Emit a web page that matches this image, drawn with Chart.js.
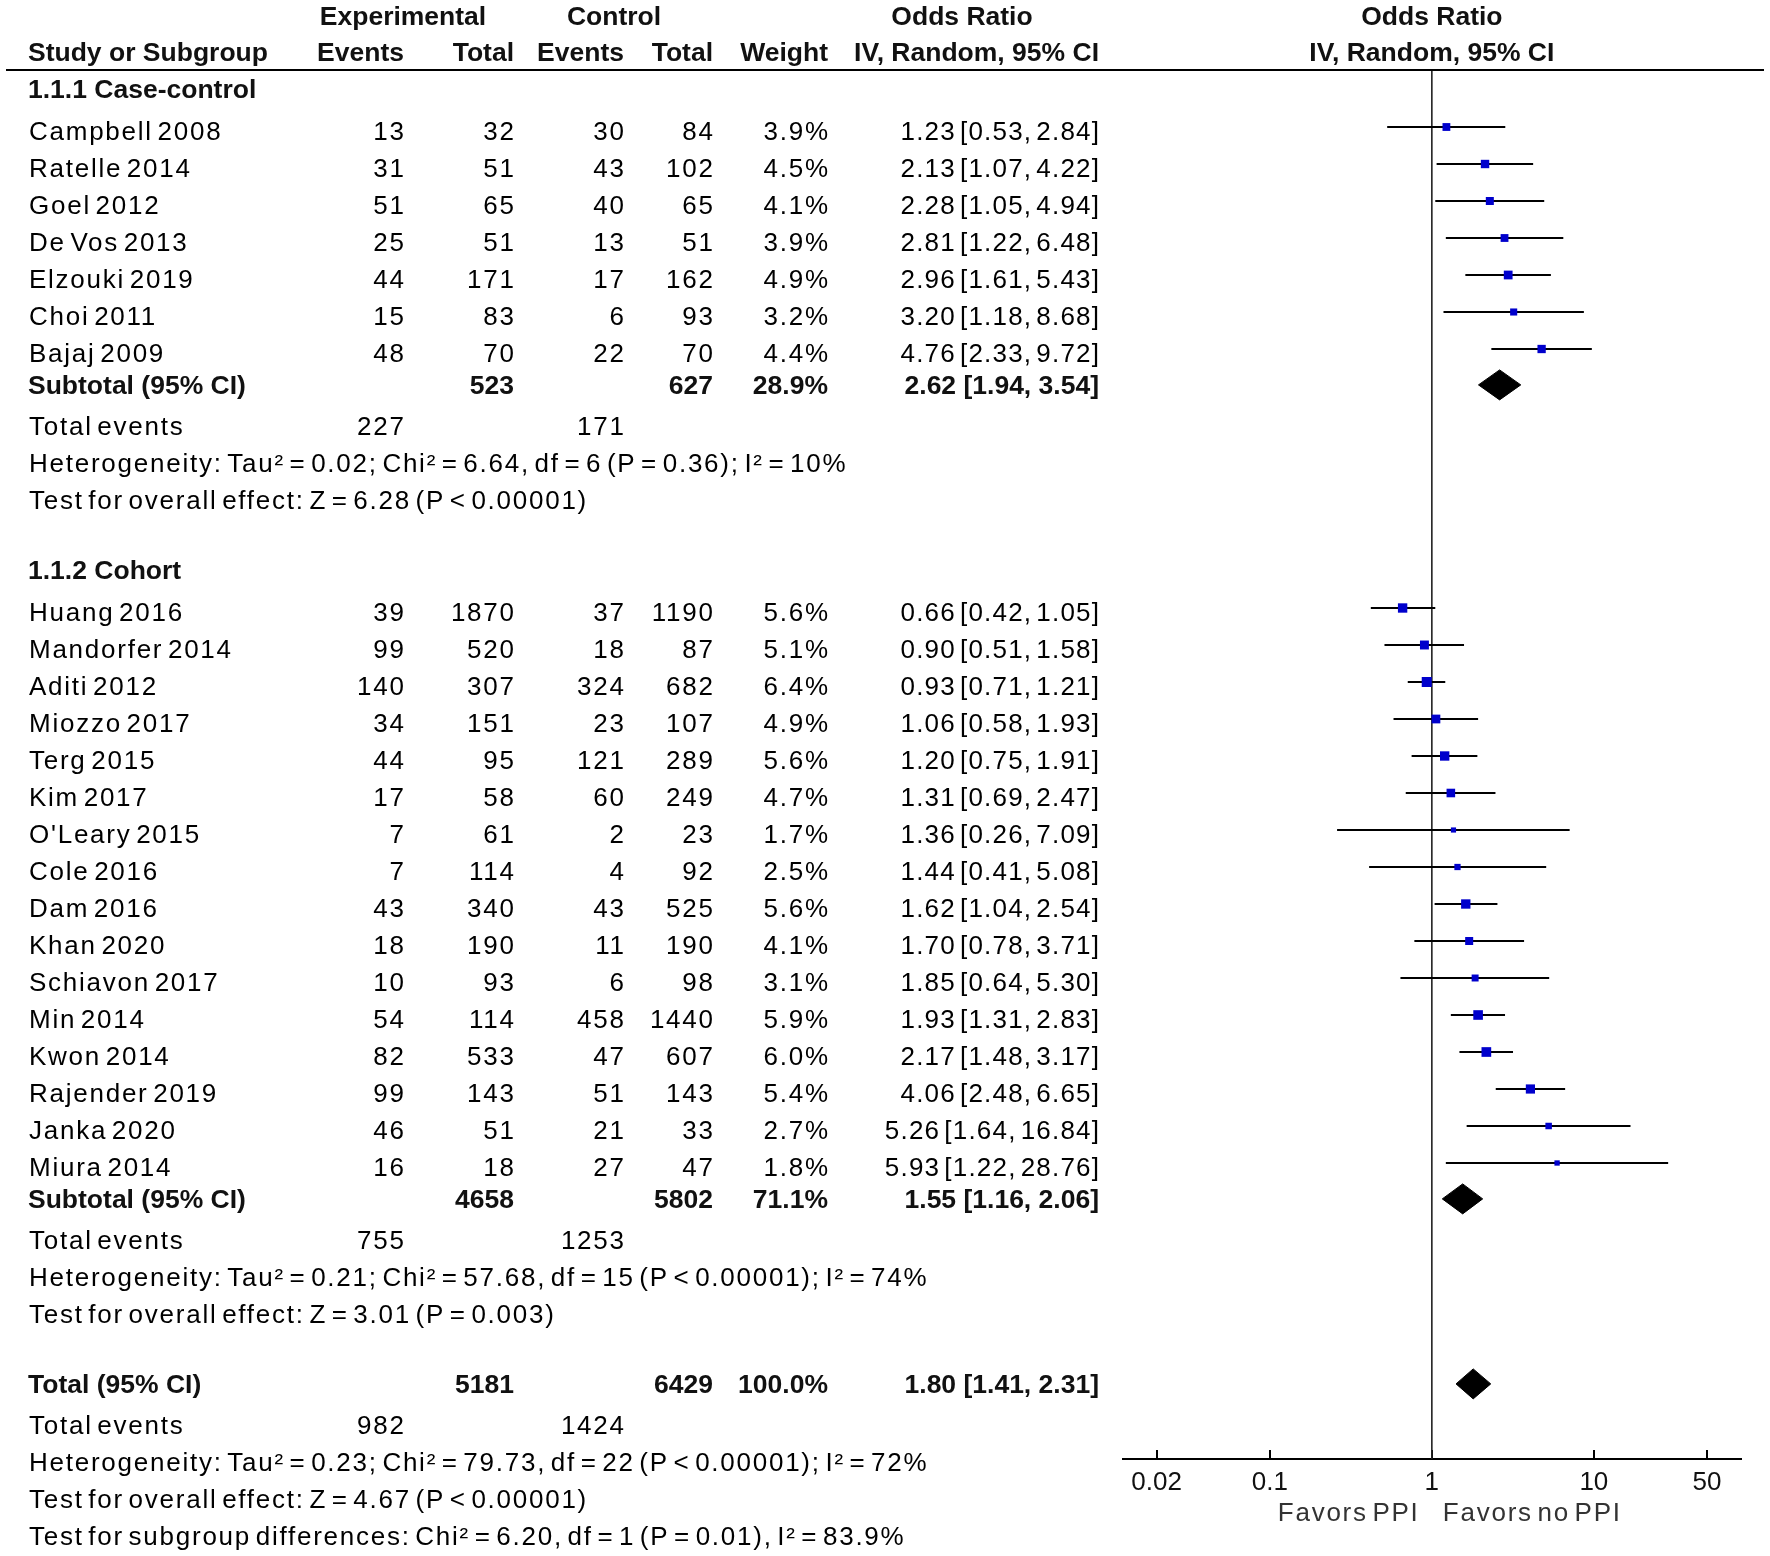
<!DOCTYPE html>
<html>
<head>
<meta charset="utf-8">
<title>Forest plot - Odds Ratio</title>
<script src="https://cdn.jsdelivr.net/npm/chart.js"></script>
<style>
  html, body { margin: 0; padding: 0; background: #fff; }
  #forest { display: block; }
</style>
</head>
<body>
<canvas id="forest" width="1770" height="1556"></canvas>
<script>
// ---- data ----
const groupNames = ['1.1.1 Case-control', '1.1.2 Cohort'];

const studies = [
    'Campbell 2008', 'Ratelle 2014', 'Goel 2012', 'De Vos 2013', 'Elzouki 2019', 'Choi 2011', 'Bajaj 2009',
    'Huang 2016', 'Mandorfer 2014', 'Aditi 2012', 'Miozzo 2017', 'Terg 2015', 'Kim 2017', "O'Leary 2015",
    'Cole 2016', 'Dam 2016', 'Khan 2020', 'Schiavon 2017', 'Min 2014', 'Kwon 2014', 'Rajender 2019',
    'Janka 2020', 'Miura 2014'
];
const studyGroup = [0, 0, 0, 0, 0, 0, 0, 1, 1, 1, 1, 1, 1, 1, 1, 1, 1, 1, 1, 1, 1, 1, 1];

const expEvents = [13, 31, 51, 25, 44, 15, 48, 39, 99, 140, 34, 44, 17, 7, 7, 43, 18, 10, 54, 82, 99, 46, 16];
const expTotal = [32, 51, 65, 51, 171, 83, 70, 1870, 520, 307, 151, 95, 58, 61, 114, 340, 190, 93, 114, 533, 143, 51, 18];
const ctlEvents = [30, 43, 40, 13, 17, 6, 22, 37, 18, 324, 23, 121, 60, 2, 4, 43, 11, 6, 458, 47, 51, 21, 27];
const ctlTotal = [84, 102, 65, 51, 162, 93, 70, 1190, 87, 682, 107, 289, 249, 23, 92, 525, 190, 98, 1440, 607, 143, 33, 47];
const weights = [3.9, 4.5, 4.1, 3.9, 4.9, 3.2, 4.4, 5.6, 5.1, 6.4, 4.9, 5.6, 4.7, 1.7, 2.5, 5.6, 4.1, 3.1, 5.9, 6.0, 5.4, 2.7, 1.8];
const oddsRatio = [1.23, 2.13, 2.28, 2.81, 2.96, 3.20, 4.76, 0.66, 0.90, 0.93, 1.06, 1.20, 1.31, 1.36, 1.44, 1.62, 1.70, 1.85, 1.93, 2.17, 4.06, 5.26, 5.93];
const ciLow = [0.53, 1.07, 1.05, 1.22, 1.61, 1.18, 2.33, 0.42, 0.51, 0.71, 0.58, 0.75, 0.69, 0.26, 0.41, 1.04, 0.78, 0.64, 1.31, 1.48, 2.48, 1.64, 1.22];
const ciHigh = [2.84, 4.22, 4.94, 6.48, 5.43, 8.68, 9.72, 1.05, 1.58, 1.21, 1.93, 1.91, 2.47, 7.09, 5.08, 2.54, 3.71, 5.30, 2.83, 3.17, 6.65, 16.84, 28.76];

// subgroup summaries
const subExpTotal = [523, 4658];
const subCtlTotal = [627, 5802];
const subWeight = [28.9, 71.1];
const subOR = [2.62, 1.55];
const subLow = [1.94, 1.16];
const subHigh = [3.54, 2.06];
const subExpEvents = [227, 755];
const subCtlEvents = [171, 1253];
const subHeterogeneity = [
    'Heterogeneity: Tau\u00b2 = 0.02; Chi\u00b2 = 6.64, df = 6 (P = 0.36); I\u00b2 = 10%',
    'Heterogeneity: Tau\u00b2 = 0.21; Chi\u00b2 = 57.68, df = 15 (P < 0.00001); I\u00b2 = 74%'
];
const subEffect = [
    'Test for overall effect: Z = 6.28 (P < 0.00001)',
    'Test for overall effect: Z = 3.01 (P = 0.003)'
];

// overall
const totalExp = 5181;
const totalCtl = 6429;
const totalWeight = 100.0;
const totalOR = 1.80;
const totalLow = 1.41;
const totalHigh = 2.31;
const totalExpEvents = 982;
const totalCtlEvents = 1424;
const totalNotes = [
    'Heterogeneity: Tau\u00b2 = 0.23; Chi\u00b2 = 79.73, df = 22 (P < 0.00001); I\u00b2 = 72%',
    'Test for overall effect: Z = 4.67 (P < 0.00001)',
    'Test for subgroup differences: Chi\u00b2 = 6.20, df = 1 (P = 0.01), I\u00b2 = 83.9%'
];

const xTicks = [0.02, 0.1, 1, 10, 50];
const favorsLeft = 'Favors PPI';
const favorsRight = 'Favors no PPI';

// ---- layout (row units, one row ~ 37px) ----
const FAMILY = "'Liberation Sans', Arial, sans-serif";
const BODY = '26px ' + FAMILY;
const BOLD = 'bold 26.5px ' + FAMILY;
const LETTER_SP = 1.75;
const WORD_SP = -4.3;
const NUM_SP = 1.2;      // the CI column is set a little tighter
const BOLD_DY = 2;
const BODY_DY = 1;
const DIAMOND_H = 0.405;
const STUDY_TEXT_DY = 4.5;
const AXIS_ROW = 39;
const HEADER_LINE_ROW = 1.46;

const cols = { name: 29, expEv: 404, expTot: 514, ctlEv: 624, ctlTot: 713, weight: 828, orText: 1099 };

const studyRow = [];
const groupRow = [];
const subRow = [];
let nextLabel = 1.97;
groupNames.forEach(function(g, gi) {
    groupRow.push(nextLabel);
    let k = 0;
    studies.forEach(function(s, i) {
        if (studyGroup[i] === gi) {
            studyRow[i] = nextLabel + 1.03 + k;
            k++;
        }
    });
    const sub = nextLabel + k + 1;
    subRow.push(sub);
    nextLabel = sub + 5;
});
const totalRow = nextLabel;

function fmtOR(or, lo, hi) {
    return or.toFixed(2) + ' [' + lo.toFixed(2) + ', ' + hi.toFixed(2) + ']';
}

function diamondData(or, lo, hi, row) {
    return [
        { x: lo, y: row },
        { x: or, y: row - DIAMOND_H },
        { x: hi, y: row },
        { x: or, y: row + DIAMOND_H },
        { x: lo, y: row }
    ];
}

// ---- datasets ----
const datasets = [];

datasets.push({
    label: 'Studies',
    data: studies.map(function(s, i) { return { x: oddsRatio[i], y: studyRow[i] }; }),
    pointStyle: 'rect',
    pointRadius: weights.map(function(w) { return 2.8 * Math.sqrt(w); }),
    pointBackgroundColor: '#0000cc',
    pointBorderWidth: 0,
    showLine: false,
    order: 0
});

studies.forEach(function(s, i) {
    datasets.push({
        label: s + ' CI',
        data: [{ x: ciLow[i], y: studyRow[i] }, { x: ciHigh[i], y: studyRow[i] }],
        showLine: true,
        borderColor: '#000',
        borderWidth: 1.8,
        pointRadius: 0,
        order: 2
    });
});

subOR.forEach(function(or, gi) {
    datasets.push({
        label: groupNames[gi] + ' subtotal',
        data: diamondData(or, subLow[gi], subHigh[gi], subRow[gi]),
        showLine: true,
        fill: 'shape',
        backgroundColor: '#000',
        borderColor: '#000',
        borderWidth: 1,
        pointRadius: 0,
        order: 1
    });
});

datasets.push({
    label: 'Total',
    data: diamondData(totalOR, totalLow, totalHigh, totalRow),
    showLine: true,
    fill: 'shape',
    backgroundColor: '#000',
    borderColor: '#000',
    borderWidth: 1,
    pointRadius: 0,
    order: 1
});

// ---- text / reference line plugin ----
function put(ctx, s, x, y, align, bold, color, spacing) {
    const ls = bold ? 0 : (spacing === undefined ? LETTER_SP : spacing);
    ctx.font = bold ? BOLD : BODY;
    ctx.letterSpacing = ls + 'px';
    ctx.wordSpacing = bold ? '0px' : WORD_SP + 'px';
    ctx.fillStyle = color || (bold ? '#111' : '#000');
    ctx.textAlign = align;
    ctx.textBaseline = 'middle';
    const shift = align === 'right' ? ls : 0;
    ctx.fillText(s, x + shift, y + (bold ? BOLD_DY : BODY_DY));
}

const forestPlugin = {
    id: 'forestTable',
    beforeDatasetsDraw(chart) {
        const ctx = chart.ctx;
        const x = chart.scales.x;
        const y = chart.scales.y;
        ctx.save();
        // line of no effect
        ctx.strokeStyle = '#222';
        ctx.lineWidth = 1.6;
        ctx.beginPath();
        ctx.moveTo(x.getPixelForValue(1), y.getPixelForValue(HEADER_LINE_ROW));
        ctx.lineTo(x.getPixelForValue(1), y.getPixelForValue(AXIS_ROW));
        ctx.stroke();
        // header rule
        ctx.strokeStyle = '#000';
        ctx.lineWidth = 2;
        ctx.beginPath();
        ctx.moveTo(6, y.getPixelForValue(HEADER_LINE_ROW));
        ctx.lineTo(1764, y.getPixelForValue(HEADER_LINE_ROW));
        ctx.stroke();
        ctx.restore();
    },
    afterDraw(chart) {
        const ctx = chart.ctx;
        const x = chart.scales.x;
        const y = chart.scales.y;
        const one = x.getPixelForValue(1);
        ctx.save();

        // column headers
        const h0 = y.getPixelForValue(0);
        const h1 = y.getPixelForValue(0.97);
        put(ctx, 'Experimental', 403, h0, 'center', true);
        put(ctx, 'Control', 614, h0, 'center', true);
        put(ctx, 'Odds Ratio', 962, h0, 'center', true);
        put(ctx, 'Odds Ratio', one, h0, 'center', true);
        put(ctx, 'Study or Subgroup', 28, h1, 'left', true);
        put(ctx, 'Events', cols.expEv, h1, 'right', true);
        put(ctx, 'Total', cols.expTot, h1, 'right', true);
        put(ctx, 'Events', cols.ctlEv, h1, 'right', true);
        put(ctx, 'Total', cols.ctlTot, h1, 'right', true);
        put(ctx, 'Weight', cols.weight, h1, 'right', true);
        put(ctx, 'IV, Random, 95% CI', cols.orText, h1, 'right', true);
        put(ctx, 'IV, Random, 95% CI', one, h1, 'center', true);

        // studies
        studies.forEach(function(s, i) {
            const py = y.getPixelForValue(studyRow[i]) + STUDY_TEXT_DY;
            put(ctx, s, cols.name, py, 'left', false);
            put(ctx, String(expEvents[i]), cols.expEv, py, 'right', false);
            put(ctx, String(expTotal[i]), cols.expTot, py, 'right', false);
            put(ctx, String(ctlEvents[i]), cols.ctlEv, py, 'right', false);
            put(ctx, String(ctlTotal[i]), cols.ctlTot, py, 'right', false);
            put(ctx, weights[i].toFixed(1) + '%', cols.weight, py, 'right', false);
            put(ctx, fmtOR(oddsRatio[i], ciLow[i], ciHigh[i]), cols.orText, py, 'right', false, null, NUM_SP);
        });

        // subgroups
        groupNames.forEach(function(g, gi) {
            put(ctx, g, 28, y.getPixelForValue(groupRow[gi]), 'left', true);
            const sy = y.getPixelForValue(subRow[gi]);
            put(ctx, 'Subtotal (95% CI)', 28, sy, 'left', true);
            put(ctx, String(subExpTotal[gi]), cols.expTot, sy, 'right', true);
            put(ctx, String(subCtlTotal[gi]), cols.ctlTot, sy, 'right', true);
            put(ctx, subWeight[gi].toFixed(1) + '%', cols.weight, sy, 'right', true);
            put(ctx, fmtOR(subOR[gi], subLow[gi], subHigh[gi]), cols.orText, sy, 'right', true);
            const ey = y.getPixelForValue(subRow[gi] + 1.13);
            put(ctx, 'Total events', cols.name, ey, 'left', false);
            put(ctx, String(subExpEvents[gi]), cols.expEv, ey, 'right', false);
            put(ctx, String(subCtlEvents[gi]), cols.ctlEv, ey, 'right', false);
            put(ctx, subHeterogeneity[gi], cols.name, y.getPixelForValue(subRow[gi] + 2.13), 'left', false);
            put(ctx, subEffect[gi], cols.name, y.getPixelForValue(subRow[gi] + 3.13), 'left', false);
        });

        // overall
        const ty = y.getPixelForValue(totalRow);
        put(ctx, 'Total (95% CI)', 28, ty, 'left', true);
        put(ctx, String(totalExp), cols.expTot, ty, 'right', true);
        put(ctx, String(totalCtl), cols.ctlTot, ty, 'right', true);
        put(ctx, totalWeight.toFixed(1) + '%', cols.weight, ty, 'right', true);
        put(ctx, fmtOR(totalOR, totalLow, totalHigh), cols.orText, ty, 'right', true);
        const ey = y.getPixelForValue(totalRow + 1.13);
        put(ctx, 'Total events', cols.name, ey, 'left', false);
        put(ctx, String(totalExpEvents), cols.expEv, ey, 'right', false);
        put(ctx, String(totalCtlEvents), cols.ctlEv, ey, 'right', false);
        totalNotes.forEach(function(t, k) {
            put(ctx, t, cols.name, y.getPixelForValue(totalRow + 2.13 + k), 'left', false);
        });

        // favours labels under the axis
        const fy = y.getPixelForValue(AXIS_ROW) + 54;
        put(ctx, favorsLeft, one - 14, fy, 'right', false, '#333');
        put(ctx, favorsRight, one + 11, fy, 'left', false, '#333');

        ctx.restore();
    }
};

// ---- chart ----
const ctx = document.getElementById('forest');

new Chart(ctx, {
    type: 'scatter',
    data: { datasets: datasets },
    plugins: [forestPlugin],
    options: {
        responsive: false,
        animation: false,
        events: [],
        layout: { autoPadding: false, padding: { left: 1123, right: 29, top: 0, bottom: 0 } },
        plugins: {
            legend: { display: false },
            tooltip: { enabled: false },
            title: { display: false }
        },
        scales: {
            x: {
                type: 'logarithmic',
                min: 0.0124,
                max: 81,
                position: { y: AXIS_ROW },
                border: { display: true, color: '#000', width: 2 },
                grid: { drawOnChartArea: false, drawTicks: true, tickLength: -10, color: '#000', lineWidth: 2 },
                afterBuildTicks: function(scale) {
                    scale.ticks = xTicks.map(function(v) { return { value: v }; });
                },
                ticks: {
                    autoSkip: false,
                    maxRotation: 0,
                    padding: 18,
                    color: '#111',
                    font: { family: FAMILY, size: 26 },
                    callback: function(v) { return String(v); }
                }
            },
            y: {
                type: 'linear',
                display: false,
                reverse: true,
                min: -16 / 37,
                max: 1540 / 37
            }
        }
    }
});
</script>
</body>
</html>
